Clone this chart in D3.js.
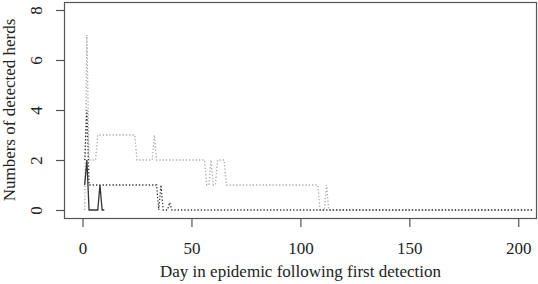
<!DOCTYPE html>
<html>
<head>
<meta charset="utf-8">
<script src="https://cdn.jsdelivr.net/npm/d3@7"></script>
<style>
  body { margin: 0; background: #fff; }
</style>
</head>
<body>
<svg width="538" height="284"></svg>
<script>
// tick labels
const xTicks = [0, 50, 100, 150, 200];
const yTicks = [0, 2, 4, 6, 8];

// series: vertices (day, herds)
const solidDays = [1, 2, 3, 7, 8, 9, 10];
const solidValues = [1, 2, 0, 0, 1, 0, 0];

const darkDays = [1, 2, 3, 34, 35, 36, 37, 39, 40, 41, 207];
const darkValues = [2, 4, 1, 1, 0, 1, 0, 0, 0.3, 0, 0];

const lightDays = [1, 2, 3, 6, 7, 24, 25, 32, 33, 34, 56, 57, 58, 59, 60, 61, 62, 65, 66, 108, 109, 111, 112, 113, 207];
const lightValues = [0, 7, 2, 2, 3, 3, 2, 2, 3, 2, 2, 1, 1, 2, 1, 1, 2, 2, 1, 1, 0, 0, 1, 0, 0];

const font = "Liberation Serif";

const svg = d3.select("svg"),
    box = { left: 64, right: 537, top: 2, bottom: 218 };

const x = d3.scaleLinear().domain([-8.5, 208.6]).range([box.left, box.right]);
const y = d3.scaleLinear().domain([-0.32, 8.32]).range([box.bottom, box.top]);

// box
svg.append("rect")
    .attr("x", box.left + 0.5).attr("y", box.top + 0.5)
    .attr("width", box.right - box.left - 1).attr("height", box.bottom - box.top)
    .attr("fill", "none").attr("stroke", "#555").attr("stroke-width", 1.2);

// x axis
const gx = svg.append("g")
    .attr("transform", `translate(0,${box.bottom})`)
    .call(d3.axisBottom(x).tickValues(xTicks).tickSize(9).tickSizeOuter(0));
gx.select(".domain").remove();
gx.selectAll("line").attr("stroke", "#555").attr("stroke-width", 1.2);
gx.selectAll("text")
    .attr("y", 36).attr("dy", null)
    .style("font-family", font)
    .attr("font-size", 17).attr("fill", "#222");

// y axis
const gy = svg.append("g")
    .attr("transform", `translate(${box.left},0)`)
    .call(d3.axisLeft(y).tickValues(yTicks).tickSize(8).tickSizeOuter(0));
gy.select(".domain").remove();
gy.selectAll("line").attr("stroke", "#555").attr("stroke-width", 1.2);
gy.selectAll("text")
    .attr("x", null).attr("dy", null)
    .attr("text-anchor", "middle")
    .attr("transform", "translate(-22,0) rotate(-90)")
    .style("font-family", font)
    .attr("font-size", 17).attr("fill", "#222");

// axis titles
svg.append("text")
    .attr("x", (box.left + box.right) / 2).attr("y", 277)
    .attr("text-anchor", "middle").attr("font-size", 17).attr("fill", "#222")
    .style("font-family", font)
    .text("Day in epidemic following first detection");

svg.append("text")
    .attr("transform", `translate(15,${(box.top + box.bottom) / 2}) rotate(-90)`)
    .attr("text-anchor", "middle").attr("font-size", 17).attr("fill", "#222")
    .style("font-family", font)
    .text("Numbers of detected herds");

// lines
const line = d3.line().x(d => x(d[0])).y(d => y(d[1]));

svg.append("path")
    .datum(d3.zip(lightDays, lightValues))
    .attr("d", line)
    .attr("fill", "none").attr("stroke", "#aaa")
    .attr("stroke-width", 1.3).attr("stroke-dasharray", "1.3,2");

svg.append("path")
    .datum(d3.zip(darkDays, darkValues))
    .attr("d", line)
    .attr("fill", "none").attr("stroke", "#333")
    .attr("stroke-width", 1.3).attr("stroke-dasharray", "1.3,2");

svg.append("path")
    .datum(d3.zip(solidDays, solidValues))
    .attr("d", line)
    .attr("fill", "none").attr("stroke", "#333")
    .attr("stroke-width", 1.3);
</script>
</body>
</html>
